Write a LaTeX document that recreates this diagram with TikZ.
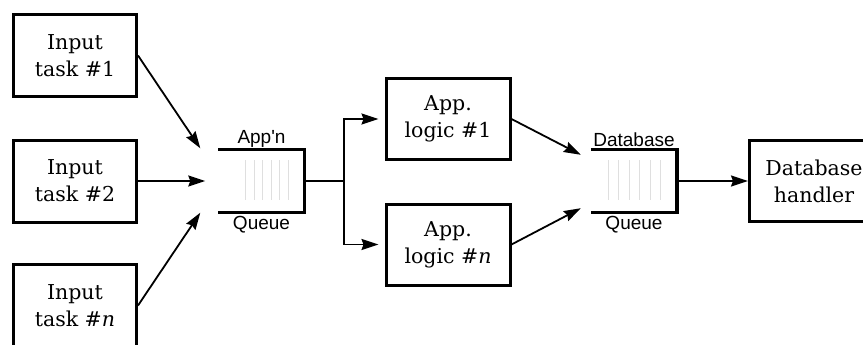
\documentclass[tikz,border=0pt]{standalone}
\usepackage{fontspec}
\setmainfont{DejaVu Serif}
\newfontfamily\qfont{Liberation Sans}
\usetikzlibrary{calc, positioning, arrows.meta}

\begin{document}
\begin{tikzpicture}[x=1pt, y=-1pt,
    task/.style={draw, line width=3pt, minimum width=123pt, minimum height=82pt,
        align=center, inner sep=0pt, font=\fontsize{20.5}{27}\selectfont},
    queue/.style={minimum width=86pt, minimum height=63pt, inner sep=0pt},
    qline/.style={line width=3.5pt},
    qtext/.style={inner sep=0pt, font=\qfont\fontsize{19}{22}\selectfont},
    link/.style={line width=1.8pt, -{Stealth[length=17pt, width=11pt, inset=2pt]}},
    slot/.style={gray!25, line width=0.6pt}]
    \useasboundingbox (0,0) rectangle (863,345);
    \clip (0,0) rectangle (863,345);
    % Input tasks
    \node[task] (in1) at (75,55.5) {Input\\task \#1};
    \node[task] (in2) at (75,181) {Input\\task \#2};
    \node[task] (inn) at (75,305.5) {Input\\task \#\textit{n}};
    % Application queue
    \node[queue] (appq) at (261.5,181) {};
    \draw[qline] (appq.north west) -- (appq.north east) -- (appq.south east) -- (appq.south west);
    \foreach \dx in {27,35.5,44,52.5,61,69.5}
        \draw[slot] ($(appq.north west)+(\dx,11)$) -- ($(appq.south west)+(\dx,-13)$);
    \node[qtext, above=2pt of appq] (appl) {App'n};
    \node[qtext, below=3pt of appq] (appb) {Queue};
    \coordinate (aq1) at ($(appq.north west)+(-18,-1)$);
    \coordinate (aq2) at ($(appq.west)+(-13,0)$);
    \coordinate (aqn) at ($(appq.south west)+(-18,0)$);
    \draw[link] (in1.east) -- (aq1);
    \draw[link] (in2.east) -- (aq2);
    \draw[link] (inn.east) -- (aqn);
    % Application logic
    \node[task, minimum width=124pt, minimum height=81pt] (lg1) at (448,119) {App.\\logic \#1};
    \node[task, minimum width=124pt, minimum height=81pt] (lgn) at (448,244.5) {App.\\logic \#\textit{n}};
    \coordinate (fork) at (344,181);
    \draw[line width=1.8pt] (appq.east) -- (fork);
    \draw[link, shorten >=6pt] (fork) |- (lg1);
    \draw[link, shorten >=6pt] (fork) |- (lgn);
    % Database queue
    \node[queue] (dbq) at (634,181) {};
    \draw[qline] (dbq.north west) -- (dbq.north east) -- (dbq.south east) -- (dbq.south west);
    \foreach \dx in {17,27.5,38,48.5,59,69.5}
        \draw[slot] ($(dbq.north west)+(\dx,11)$) -- ($(dbq.south west)+(\dx,-13)$);
    \node[qtext, above=2pt of dbq] (dbl) {Database};
    \node[qtext, below=3pt of dbq] (dbb) {Queue};
    \coordinate (dq1) at ($(dbq.north west)+(-10,5.5)$);
    \coordinate (dqn) at ($(dbq.south west)+(-10,-4.5)$);
    \draw[link] (lg1.east) -- (dq1);
    \draw[link] (lgn.east) -- (dqn);
    % Database handler
    \node[task, minimum width=129pt, minimum height=81pt] (dbh) at (814,181) {Database\\handler};
    \draw[link] (dbq.east) -- (dbh);
\end{tikzpicture}
\end{document}
